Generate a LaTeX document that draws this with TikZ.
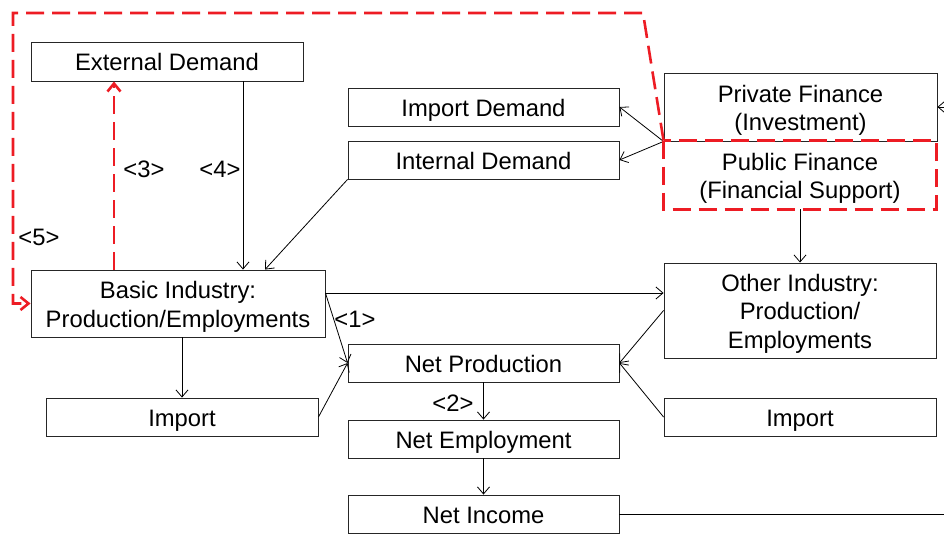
\documentclass[tikz,border=0pt]{standalone}
\usepackage{fontspec}
\setmainfont{Liberation Sans}
\usetikzlibrary{arrows.meta}
\definecolor{flowred}{RGB}{237,28,36}
\begin{document}
\begin{tikzpicture}[x=1pt,y=-1pt,
  every node/.style={font=\fontsize{23.8}{28.5}\selectfont},
  box/.style={draw=black!85, line width=0.9pt, inner sep=0pt, align=center,
    text height=23pt, text depth=4pt},
  twolines/.style={text height=51.5pt, text depth=4pt},
  threelines/.style={text height=80pt, text depth=4pt},
  arr/.style={draw=black, line width=0.8pt, -{Straight Barb[length=7pt,width=12pt]}},
  plain/.style={draw=black, line width=0.8pt},
  reddash/.style={draw=flowred, line width=2.6pt, dash pattern=on 18pt off 8pt},
  redarr/.style={reddash, -{Straight Barb[length=8pt,width=13pt,line width=2.6pt]}},
  lbl/.style={inner sep=0pt}]
\useasboundingbox (0,0) rectangle (944,534);

% boxes
\node[box, minimum width=272pt, minimum height=39pt] (ext) at (167,61.5) {External Demand};
\node[box, minimum width=271pt, minimum height=38pt] (impd) at (483.5,107) {Import Demand};
\node[box, minimum width=271pt, minimum height=38pt] (intd) at (483.5,160) {Internal Demand};
\node[box, twolines, minimum width=273pt, minimum height=68pt] (pf) at (800.5,107) {Private Finance\\(Investment)};
\node[box, twolines, draw=none, minimum width=272pt, minimum height=68pt] (pub) at (800,175) {Public Finance\\(Financial Support)};
\node[box, twolines, minimum width=294pt, minimum height=67pt] (bi) at (178,303.5) {Basic Industry:\\Production/Employments};
\node[box, threelines, minimum width=272pt, minimum height=95pt] (oi) at (800,310.5) {Other Industry:\\Production/\\Employments};
\node[box, minimum width=272pt, minimum height=38pt] (imp1) at (182,417) {Import};
\node[box, minimum width=271pt, minimum height=38pt] (np) at (483.5,363) {Net Production};
\node[box, minimum width=272pt, minimum height=38pt] (imp2) at (800,417) {Import};
\node[box, minimum width=271pt, minimum height=38pt] (ne) at (483.5,439) {Net Employment};
\node[box, minimum width=271pt, minimum height=38pt] (ni) at (483.5,514) {Net Income};

% loose ends at the right margin
\coordinate (rin) at (944,107);
\coordinate (rout) at (944,514);

% labels
\node[lbl] (l1) at (355,319) {<1>};
\node[lbl] (l2) at (453,403) {<2>};
\node[lbl] (l3) at (144,169) {<3>};
\node[lbl] (l4) at (220,169) {<4>};
\node[lbl] (l5) at (39,237) {<5>};

% connectors
\draw[arr] ([xshift=76pt]ext.south) -- ([xshift=76pt]ext.south |- bi.north);
\draw[arr] (intd.south west) -- ([xshift=87pt]bi.north);
\draw[arr] (pf.south west) -- (impd.east);
\draw[arr] (pf.south west) -- (intd.east);
\draw[arr] (rin) -- (pf.east);
\draw[arr] (pub.south) -- (oi.north);
\draw[arr] ([yshift=10.5pt]bi.east) -- ([yshift=10.5pt]bi.east -| oi.west);
\draw[arr] ([yshift=10.5pt]bi.east) -- (np.west);
\draw[arr] (imp1.north |- bi.south) -- (imp1.north);
\draw[arr] (imp1.east) -- (np.west);
\draw[arr] (oi.west) -- (np.east);
\draw[arr] (imp2.west) -- (np.east);
\draw[arr] (np.south) -- (ne.north);
\draw[arr] (ne.south) -- (ni.north);
\draw[plain] (ni.east) -- (rout);

% red feedback paths
\draw[reddash] (pub.north west) rectangle (pub.south east);
\coordinate (tr) at (643,13);
\coordinate (tl) at (13,13);
\draw[redarr] (pub.north west) -- (tr) -- (tl) -- (tl |- bi.west) -- (bi.west);
\draw[redarr] ([xshift=-64pt]bi.north) -- ([xshift=-64pt]bi.north |- ext.south);
\end{tikzpicture}
\end{document}
